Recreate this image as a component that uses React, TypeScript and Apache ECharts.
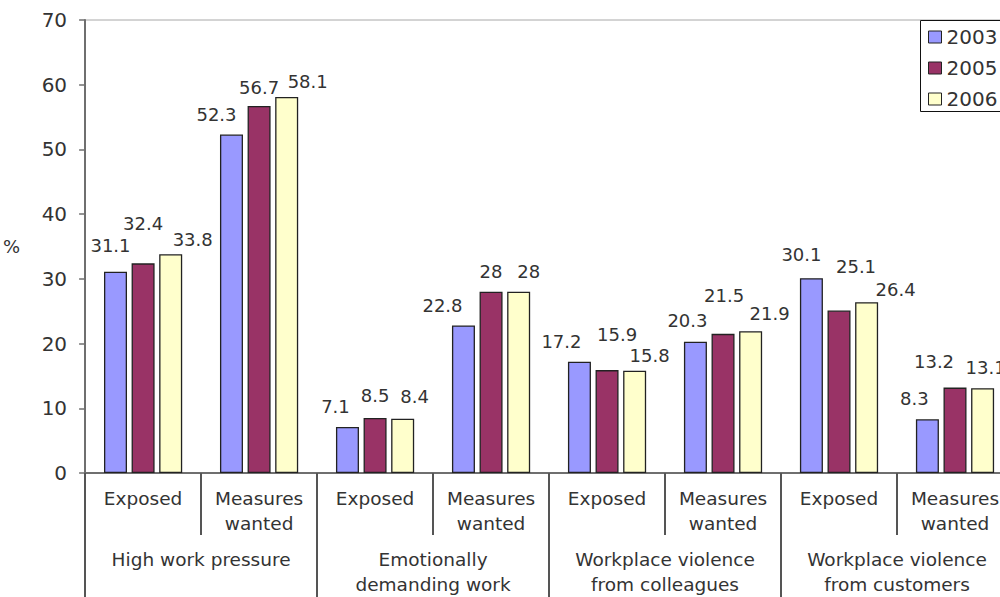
import React, { useEffect, useRef } from "react";
import * as echarts from "echarts";

// Sub-categories (lower row) and their parent groups (upper row)
const categories = [
  "Exposed", "Measures\nwanted",
  "Exposed", "Measures\nwanted",
  "Exposed", "Measures\nwanted",
  "Exposed", "Measures\nwanted",
];
const groups = [
  "High work pressure",
  "Emotionally\ndemanding work",
  "Workplace violence\nfrom colleagues",
  "Workplace violence\nfrom customers",
];
const years = ["2003", "2005", "2006"];

const values2003 = [31.1, 52.3, 7.1, 22.8, 17.2, 20.3, 30.1, 8.3];
const values2005 = [32.4, 56.7, 8.5, 28, 15.9, 21.5, 25.1, 13.2];
const values2006 = [33.8, 58.1, 8.4, 28, 15.8, 21.9, 26.4, 13.1];

const yMin = 0;
const yMax = 70;
const yStep = 10;

// Hand-placed value label nudges [dx, dy] per bar, as laid out in the sheet
const labelShift2003 = [[-5, -12], [-15, -6], [-12, -7], [-21, -6], [-18, -6], [-8, -7], [-10, -10], [-13, -7]];
const labelShift2005 = [[0, -26], [0, -5], [0, -8], [0, -6], [10, -22], [1, -24], [17, -30], [-21, -12]];
const labelShift2006 = [[22, -1], [21, -2], [12, -8], [10, -6], [15, -1], [19, -4], [29, 1], [3, -7]];

const colors = ["#9999FF", "#993366", "#FFFFCC"];
const FONT = "'DejaVu Sans', Verdana, sans-serif";
const TEXT = "#333333";

function buildSeries(name: string, values: number[], shifts: number[][], color: string) {
  return {
    name,
    type: "bar",
    xAxisIndex: 0,
    barWidth: 23,
    barGap: "20%",
    itemStyle: { color, borderColor: "#222222", borderWidth: 1.3 },
    label: {
      show: true,
      position: "top",
      distance: 5,
      fontFamily: FONT,
      fontSize: 18,
      color: TEXT,
    },
    data: values.map((v, i) => ({ value: v, label: { offset: shifts[i] } })),
  };
}

export default function App() {
  const ref = useRef<HTMLDivElement>(null);

  useEffect(() => {
    if (!ref.current) return;
    const chart = echarts.init(ref.current, null, { renderer: "svg" });
    chart.setOption({
      animation: false,
      backgroundColor: "#ffffff",
      textStyle: { fontFamily: FONT },
      grid: {
        left: 85,
        right: 47,
        top: 20,
        bottom: 124,
        show: true,
        borderColor: "#a8a8a8",
        borderWidth: 1,
      },
      // legend frame: white panel plus an open outline running off the right edge
      graphic: [
        {
          type: "polygon",
          z: 5,
          shape: { points: [[920, 20], [1060, 20], [1060, 112], [920, 112]] },
          style: { fill: "#ffffff", stroke: null },
        },
        {
          type: "polyline",
          z: 6,
          shape: { points: [[1060, 20.5], [920.5, 20.5], [920.5, 111.5], [1060, 111.5]] },
          style: { fill: null, stroke: "#111111", lineWidth: 1 },
        },
      ],
      legend: {
        orient: "vertical",
        left: 920,
        top: 20,
        z: 10,
        data: years,
        icon: "rect",
        itemWidth: 13,
        itemHeight: 12,
        itemGap: 11,
        padding: [7, 10, 3, 8],
        itemStyle: { borderColor: "#222222", borderWidth: 1 },
        textStyle: {
          fontFamily: FONT,
          fontSize: 20,
          color: TEXT,
          lineHeight: 20,
        },
      },
      xAxis: [
        {
          type: "category",
          data: categories,
          position: "bottom",
          axisLine: { show: true, lineStyle: { color: "#6f6f6f", width: 2 } },
          axisTick: { show: true, interval: 0, length: 62, lineStyle: { color: "#555555", width: 2 } },
          axisLabel: {
            interval: 0,
            margin: 13,
            fontFamily: FONT,
            fontSize: 18.5,
            lineHeight: 25,
            color: TEXT,
          },
        },
        {
          type: "category",
          data: groups,
          position: "bottom",
          offset: 0,
          axisLine: { show: false },
          axisTick: { show: true, interval: 0, length: 124, lineStyle: { color: "#555555", width: 2 } },
          axisLabel: {
            interval: 0,
            margin: 74,
            fontFamily: FONT,
            fontSize: 18.5,
            lineHeight: 25,
            color: TEXT,
          },
        },
      ],
      yAxis: {
        type: "value",
        min: yMin,
        max: yMax,
        interval: yStep,
        name: "%",
        nameLocation: "middle",
        nameRotate: 0,
        nameGap: 65,
        nameTextStyle: { fontFamily: FONT, fontSize: 18, color: TEXT },
        axisLine: { show: true, lineStyle: { color: "#6f6f6f", width: 2 } },
        axisTick: { show: true, length: 6, lineStyle: { color: "#6f6f6f", width: 1.5 } },
        splitLine: { show: false },
        axisLabel: { margin: 18, fontFamily: FONT, fontSize: 20, color: TEXT },
      },
      series: [
        buildSeries(years[0], values2003, labelShift2003, colors[0]),
        buildSeries(years[1], values2005, labelShift2005, colors[1]),
        buildSeries(years[2], values2006, labelShift2006, colors[2]),
      ],
    });
    return () => chart.dispose();
  }, []);

  return (
    <div
      style={{
        position: "absolute",
        left: 0,
        top: 0,
        width: 1000,
        height: 597,
        overflow: "hidden",
        background: "#ffffff",
      }}
    >
      <div ref={ref} style={{ width: 1060, height: 597 }} />
    </div>
  );
}
